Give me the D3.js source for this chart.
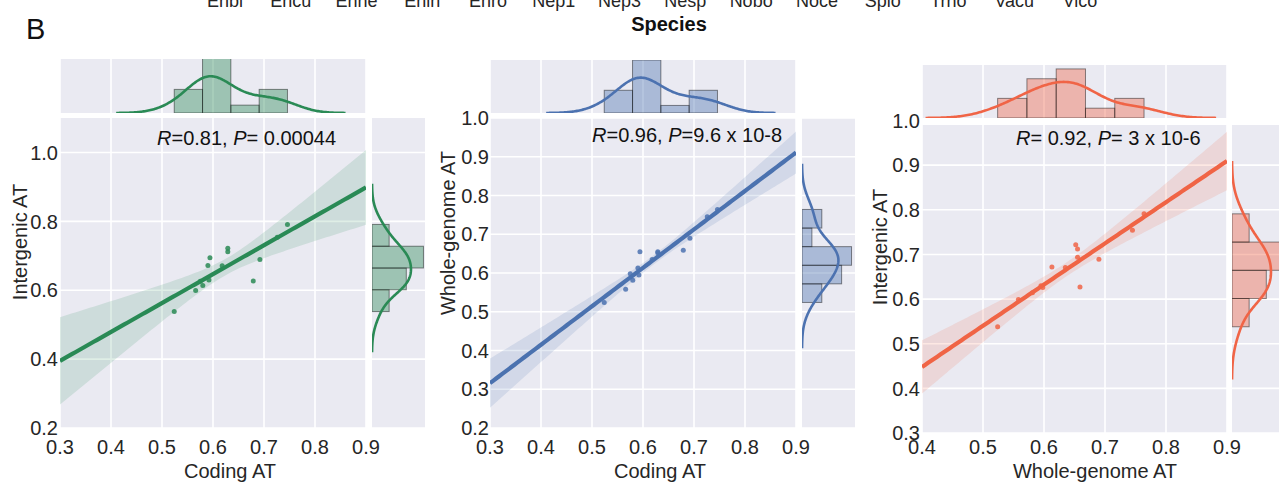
<!DOCTYPE html>
<html>
<head>
<meta charset="utf-8">
<script src="https://cdn.jsdelivr.net/npm/d3@7"></script>
<style>
  body { margin: 0; background: #fff; }
  svg { font-family: "Liberation Sans", Arial, sans-serif; }
</style>
</head>
<body>
<svg id="chart" width="1279" height="483"></svg>
<script>
// Species (x axis of the panel above, only its bottom edge is visible)
const species = ['Enbi', 'Encu', 'Enhe', 'Enin', 'Enro', 'Nep1', 'Nep3', 'Nesp', 'Nobo', 'Noce', 'Splo', 'Trho', 'Vacu', 'Vico'];

// AT content per genome
const codingAT = [0.524, 0.566, 0.580, 0.575, 0.592, 0.590, 0.594, 0.618, 0.629, 0.629, 0.679, 0.692, 0.726, 0.746];
const wholeGenomeAT = [0.524, 0.558, 0.581, 0.598, 0.595, 0.613, 0.655, 0.635, 0.652, 0.655, 0.659, 0.690, 0.745, 0.764];
const intergenicAT = [0.538, 0.599, 0.614, 0.626, 0.630, 0.672, 0.694, 0.671, 0.722, 0.712, 0.627, 0.689, 0.754, 0.791];

// Histogram bin counts for the marginals
const codingBins = 4;
const wholeBins = 5;
const intergenicBins = 4;

// Tick labels
const codingTicks = [0.3, 0.4, 0.5, 0.6, 0.7, 0.8, 0.9];
const wholeTicks = [0.4, 0.5, 0.6, 0.7, 0.8, 0.9];
const yTicksA = [0.2, 0.4, 0.6, 0.8, 1.0];
const yTicksB = [0.2, 0.3, 0.4, 0.5, 0.6, 0.7, 0.8, 0.9, 1.0];
const yTicksC = [0.3, 0.4, 0.5, 0.6, 0.7, 0.8, 0.9, 1.0];

// Correlation labels
const rValues = ['0.81', '0.96', ' 0.92'];
const pValues = [' 0.00044', '9.6 x 10-8', ' 3 x 10-6'];

const colors = ['#2a8a55', '#4c72b0', '#f06446'];
const textColor = '#262626';
const bg = '#eaeaf2';
const tCrit = 2.179; // t(0.975, df = 12)

const svg = d3.select('#chart');

// Top strip: species names (cut off) and axis title
const sx = d3.scalePoint().domain(species).range([225, 1080]);
svg.append('g')
  .selectAll('text')
  .data(species)
  .join('text')
  .attr('x', (d) => sx(d))
  .attr('y', 7)
  .attr('text-anchor', 'middle')
  .attr('font-size', 18)
  .attr('fill', textColor)
  .text((d) => d);

svg.append('text')
  .attr('x', 669).attr('y', 31)
  .attr('text-anchor', 'middle')
  .attr('font-size', 20).attr('font-weight', 'bold')
  .attr('fill', '#111')
  .text('Species');

svg.append('text')
  .attr('x', 26).attr('y', 39)
  .attr('font-size', 29)
  .attr('fill', '#111')
  .text('B');

const panels = [
  {
    xs: codingAT, ys: intergenicAT, xBins: codingBins, yBins: intergenicBins,
    xLabel: 'Coding AT', yLabel: 'Intergenic AT', xTicks: codingTicks, yTicks: yTicksA,
    xDomain: [0.3, 0.9], yDomain: [0.2, 1.1],
    box: { left: 60, right: 366, top: 118, bottom: 428 },
    topStrip: [59, 113], rightStrip: [372, 425], topPad: 0.98, rightPad: 1.03,
    yLabelPos: [27, 242], xLabelX: 230, statX: 157, statY: 145, tickEnd: 58,
  },
  {
    xs: codingAT, ys: wholeGenomeAT, xBins: codingBins, yBins: wholeBins,
    xLabel: 'Coding AT', yLabel: 'Whole-genome AT', xTicks: codingTicks, yTicks: yTicksB,
    xDomain: [0.3, 0.9], yDomain: [0.2, 1.0],
    box: { left: 490, right: 796, top: 118, bottom: 428 },
    topStrip: [60, 113], rightStrip: [802, 855], topPad: 1.0, rightPad: 1.07,
    yLabelPos: [455, 233], xLabelX: 660, statX: 592, statY: 142, tickEnd: 489,
  },
  {
    xs: wholeGenomeAT, ys: intergenicAT, xBins: wholeBins, yBins: intergenicBins,
    xLabel: 'Whole-genome AT', yLabel: 'Intergenic AT', xTicks: wholeTicks, yTicks: yTicksC,
    xDomain: [0.4, 0.9], yDomain: [0.3, 0.99],
    box: { left: 922, right: 1227, top: 125, bottom: 433 },
    topStrip: [65, 118], rightStrip: [1232, 1285], topPad: 1.08, rightPad: 1.03,
    yLabelPos: [887, 247], xLabelX: 1095, statX: 1016, statY: 145, tickEnd: 920,
  },
];

// Equal-width bins from min to max, as density
const histogram = (values, k) => {
  const [lo, hi] = d3.extent(values);
  const w = (hi - lo) / k;
  const bins = d3.bin()
    .domain([lo, hi])
    .thresholds(d3.range(1, k).map((i) => lo + i * w))(values);
  return bins.map((b) => ({ x0: b.x0, x1: b.x1, d: b.length / (values.length * w) }));
};

// Gaussian KDE, Scott bandwidth, cut = 3
const kde = (values) => {
  const bw = d3.deviation(values) * Math.pow(values.length, -0.2);
  const [lo, hi] = d3.extent(values);
  const a = lo - 3 * bw;
  const b = hi + 3 * bw;
  return d3.range(201).map((i) => {
    const x = a + (i * (b - a)) / 200;
    const d = d3.mean(values, (v) => Math.exp(-0.5 * ((x - v) / bw) ** 2)) / (bw * Math.sqrt(2 * Math.PI));
    return { x, d };
  });
};

// Least squares fit with 95% band of the mean
const fit = (xs, ys) => {
  const n = xs.length;
  const mx = d3.mean(xs);
  const my = d3.mean(ys);
  const sxx = d3.sum(xs, (x) => (x - mx) ** 2);
  const sxy = d3.sum(xs, (x, i) => (x - mx) * (ys[i] - my));
  const slope = sxy / sxx;
  const sse = d3.sum(xs, (x, i) => (ys[i] - (my + slope * (x - mx))) ** 2);
  const s = Math.sqrt(sse / (n - 2));
  return (x) => {
    const yhat = my + slope * (x - mx);
    const half = tCrit * s * Math.sqrt(1 / n + (x - mx) ** 2 / sxx);
    return { x, yhat, lo: yhat - half, hi: yhat + half };
  };
};

panels.forEach((p, idx) => {
  const color = colors[idx];
  const { box } = p;
  const g = svg.append('g');

  const x = d3.scaleLinear().domain(p.xDomain).range([box.left, box.right]);
  const y = d3.scaleLinear().domain(p.yDomain).range([box.bottom, box.top]);

  // Joint background and grid
  g.append('rect')
    .attr('x', box.left).attr('y', box.top)
    .attr('width', box.right - box.left).attr('height', box.bottom - box.top)
    .attr('fill', bg);

  const clipId = `clip${idx}`;
  g.append('clipPath').attr('id', clipId)
    .append('rect')
    .attr('x', box.left).attr('y', box.top)
    .attr('width', box.right - box.left).attr('height', box.bottom - box.top);

  const grid = g.append('g').attr('stroke', '#fff').attr('stroke-width', 1.6);
  grid.selectAll('.v').data(p.xTicks).join('line')
    .attr('x1', (d) => x(d)).attr('x2', (d) => x(d))
    .attr('y1', box.top).attr('y2', box.bottom);
  grid.selectAll('.h').data(p.yTicks.filter((d) => d <= p.yDomain[1])).join('line')
    .attr('y1', (d) => y(d)).attr('y2', (d) => y(d))
    .attr('x1', box.left).attr('x2', box.right);

  // Points, regression line and band
  const plot = g.append('g').attr('clip-path', `url(#${clipId})`);
  plot.selectAll('circle')
    .data(p.xs.map((v, i) => [v, p.ys[i]]))
    .join('circle')
    .attr('cx', (d) => x(d[0]))
    .attr('cy', (d) => y(d[1]))
    .attr('r', 2.5)
    .attr('fill', color)
    .attr('fill-opacity', 0.85);

  const model = fit(p.xs, p.ys);
  const grid100 = d3.range(101).map((i) => model(p.xDomain[0] + (i * (p.xDomain[1] - p.xDomain[0])) / 100));

  plot.append('path')
    .datum(grid100)
    .attr('fill', 'none')
    .attr('stroke', color)
    .attr('stroke-width', 4.2)
    .attr('d', d3.line().x((d) => x(d.x)).y((d) => y(d.yhat)));

  plot.append('path')
    .datum(grid100)
    .attr('fill', color)
    .attr('fill-opacity', 0.15)
    .attr('d', d3.area().x((d) => x(d.x)).y0((d) => y(d.lo)).y1((d) => y(d.hi)));

  // Tick labels
  g.append('g').selectAll('text').data(p.xTicks).join('text')
    .attr('x', (d) => x(d)).attr('y', 454)
    .attr('text-anchor', 'middle')
    .attr('font-size', 20).attr('fill', textColor)
    .text((d) => d.toFixed(1));

  g.append('g').selectAll('text').data(p.yTicks).join('text')
    .attr('x', p.tickEnd).attr('y', (d) => y(d))
    .attr('dy', '0.36em')
    .attr('text-anchor', 'end')
    .attr('font-size', 20).attr('fill', textColor)
    .text((d) => d.toFixed(1));

  // Axis titles
  g.append('text')
    .attr('x', p.xLabelX).attr('y', 478)
    .attr('text-anchor', 'middle')
    .attr('font-size', 20).attr('fill', textColor)
    .text(p.xLabel);

  g.append('text')
    .attr('transform', `translate(${p.yLabelPos[0]},${p.yLabelPos[1]}) rotate(-90)`)
    .attr('text-anchor', 'middle')
    .attr('font-size', 20).attr('fill', textColor)
    .text(p.yLabel);

  // Statistic label
  const stat = g.append('text')
    .attr('x', p.statX).attr('y', p.statY)
    .attr('font-size', 20).attr('fill', '#111');
  stat.append('tspan').attr('font-style', 'italic').text('R');
  stat.append('tspan').text(`=${rValues[idx]}, `);
  stat.append('tspan').attr('font-style', 'italic').text('P');
  stat.append('tspan').attr('xml:space', 'preserve').text(`=${pValues[idx]}`);

  // Top marginal
  const [tTop, tBottom] = p.topStrip;
  const xHist = histogram(p.xs, p.xBins);
  const xKde = kde(p.xs);
  const xMax = Math.max(d3.max(xHist, (d) => d.d), d3.max(xKde, (d) => d.d)) * p.topPad;
  const yTopStrip = d3.scaleLinear().domain([0, xMax]).range([tBottom, tTop]);

  g.append('rect')
    .attr('x', box.left).attr('y', tTop)
    .attr('width', box.right - box.left).attr('height', tBottom - tTop)
    .attr('fill', bg);
  g.append('clipPath').attr('id', `clipTop${idx}`)
    .append('rect')
    .attr('x', box.left).attr('y', tTop)
    .attr('width', box.right - box.left).attr('height', tBottom - tTop);
  g.append('g').attr('stroke', '#fff').attr('stroke-width', 1.6)
    .selectAll('line').data(p.xTicks).join('line')
    .attr('x1', (d) => x(d)).attr('x2', (d) => x(d))
    .attr('y1', tTop).attr('y2', tBottom);

  const topG = g.append('g').attr('clip-path', `url(#clipTop${idx})`);
  topG.selectAll('rect').data(xHist).join('rect')
    .attr('x', (d) => x(d.x0))
    .attr('width', (d) => x(d.x1) - x(d.x0))
    .attr('y', (d) => yTopStrip(d.d))
    .attr('height', (d) => tBottom - yTopStrip(d.d))
    .attr('fill', color).attr('fill-opacity', 0.4)
    .attr('stroke', '#000').attr('stroke-opacity', 0.45).attr('stroke-width', 1);
  topG.append('path')
    .datum(xKde)
    .attr('fill', 'none').attr('stroke', color).attr('stroke-width', 2.6)
    .attr('d', d3.line().x((d) => x(d.x)).y((d) => yTopStrip(d.d)));

  // Right marginal
  const [rLeft, rRight] = p.rightStrip;
  const yHist = histogram(p.ys, p.yBins);
  const yKde = kde(p.ys);
  const yMax = Math.max(d3.max(yHist, (d) => d.d), d3.max(yKde, (d) => d.d)) * p.rightPad;
  const xRightStrip = d3.scaleLinear().domain([0, yMax]).range([rLeft, rRight]);

  g.append('rect')
    .attr('x', rLeft).attr('y', box.top)
    .attr('width', rRight - rLeft).attr('height', box.bottom - box.top)
    .attr('fill', bg);
  g.append('clipPath').attr('id', `clipRight${idx}`)
    .append('rect')
    .attr('x', rLeft).attr('y', box.top)
    .attr('width', rRight - rLeft).attr('height', box.bottom - box.top);
  g.append('g').attr('stroke', '#fff').attr('stroke-width', 1.6)
    .selectAll('line').data(p.yTicks.filter((d) => d <= p.yDomain[1])).join('line')
    .attr('y1', (d) => y(d)).attr('y2', (d) => y(d))
    .attr('x1', rLeft).attr('x2', rRight);

  const rightG = g.append('g').attr('clip-path', `url(#clipRight${idx})`);
  rightG.selectAll('rect').data(yHist).join('rect')
    .attr('x', rLeft)
    .attr('width', (d) => xRightStrip(d.d) - rLeft)
    .attr('y', (d) => y(d.x1))
    .attr('height', (d) => y(d.x0) - y(d.x1))
    .attr('fill', color).attr('fill-opacity', 0.4)
    .attr('stroke', '#000').attr('stroke-opacity', 0.45).attr('stroke-width', 1);
  rightG.append('path')
    .datum(yKde)
    .attr('fill', 'none').attr('stroke', color).attr('stroke-width', 2.6)
    .attr('d', d3.line().x((d) => xRightStrip(d.d)).y((d) => y(d.x)));
});
</script>
</body>
</html>
